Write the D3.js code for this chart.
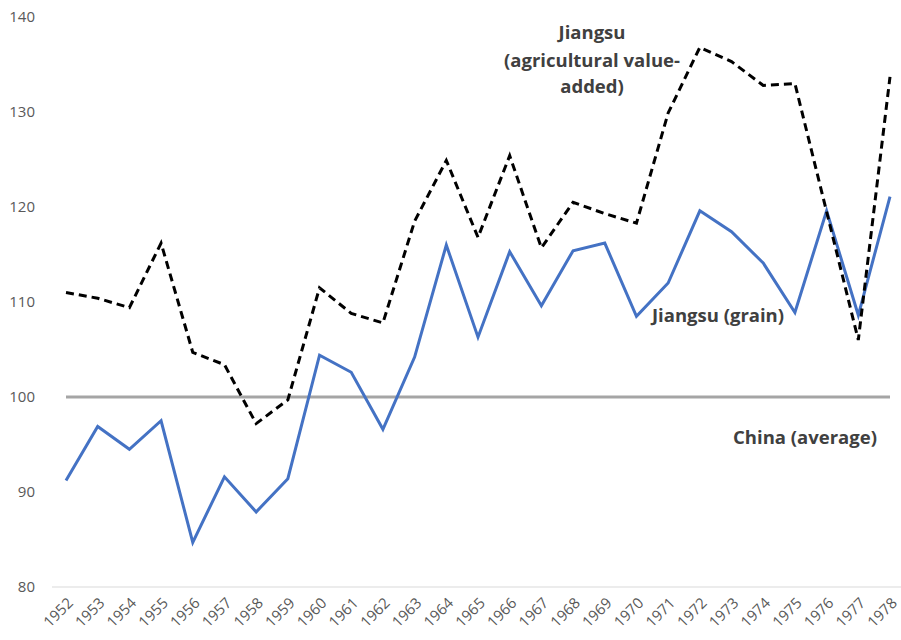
<!DOCTYPE html>
<html>
<head>
<meta charset="utf-8">
<script src="https://cdn.jsdelivr.net/npm/d3@7"></script>
<style>
body { margin: 0; background: #fff; }
svg { font-family: "Open Sans", Lato, sans-serif; }
</style>
</head>
<body>
<div id="chart"></div>
<script>
var years = d3.range(1952, 1979);
var grain = [91.2, 96.9, 94.5, 97.5, 84.7, 91.6, 87.9, 91.4, 104.4, 102.6, 96.6, 104.2, 116.0,
	106.3, 115.3, 109.6, 115.4, 116.2, 108.5, 112.0, 119.6, 117.4, 114.1, 108.9, 119.6, 108.6, 121.1];
var agri = [111.0, 110.4, 109.4, 116.2, 104.7, 103.4, 97.2, 99.7, 111.5, 108.8, 107.8, 118.5, 124.9,
	116.8, 125.4, 115.7, 120.5, 119.3, 118.3, 129.9, 136.8, 135.3, 132.8, 133.0, 119.5, 106.0, 133.7];
var china = years.map(function() { return 100; });
var yTicks = [80, 90, 100, 110, 120, 130, 140];

var width = 901, height = 640;
var svg = d3.select('#chart').append('svg')
	.attr('width', width)
	.attr('height', height);

var x = d3.scalePoint()
	.domain(years)
	.range([66, 890]);

var y = d3.scaleLinear()
	.domain([80, 140])
	.range([587, 17]);

// baseline
svg.append('line')
	.attr('x1', 52).attr('x2', 901)
	.attr('y1', y(80)).attr('y2', y(80))
	.attr('stroke', '#d9d9d9')
	.attr('stroke-width', 1.2);

// y labels
svg.selectAll('.ylab').data(yTicks).enter().append('text')
	.attr('class', 'ylab')
	.attr('x', 35)
	.attr('y', function(d) { return y(d); })
	.attr('dy', '0.35em')
	.attr('text-anchor', 'end')
	.attr('font-size', 15)
	.attr('fill', '#595959')
	.text(function(d) { return d; });

// x labels
svg.selectAll('.xlab').data(years).enter().append('text')
	.attr('class', 'xlab')
	.attr('transform', function(d) { return 'translate(' + (x(d) + 8) + ',604) rotate(-45)'; })
	.attr('text-anchor', 'end')
	.attr('font-size', 15)
	.attr('fill', '#595959')
	.text(function(d) { return d; });

var line = d3.line()
	.x(function(d, i) { return x(years[i]); })
	.y(function(d) { return y(d); });

svg.append('path')
	.datum(china)
	.attr('d', line)
	.attr('fill', 'none')
	.attr('stroke', '#a5a5a5')
	.attr('stroke-width', 3);

svg.append('path')
	.datum(grain)
	.attr('d', line)
	.attr('fill', 'none')
	.attr('stroke', '#4472c4')
	.attr('stroke-width', 3);

svg.append('path')
	.datum(agri)
	.attr('d', line)
	.attr('fill', 'none')
	.attr('stroke', '#000')
	.attr('stroke-width', 3)
	.attr('stroke-dasharray', '8,5');

// annotations
var notes = [
	{ t: 'Jiangsu', x: 592, y: 33 },
	{ t: '(agricultural value-', x: 592, y: 61 },
	{ t: 'added)', x: 592, y: 87 },
	{ t: 'Jiangsu (grain)', x: 718, y: 316 },
	{ t: 'China (average)', x: 805, y: 438 }
];
svg.selectAll('.note').data(notes).enter().append('text')
	.attr('class', 'note')
	.attr('x', function(d) { return d.x; })
	.attr('y', function(d) { return d.y; })
	.attr('dy', '0.35em')
	.attr('text-anchor', 'middle')
	.attr('font-size', 18.5)
	.attr('font-weight', 'bold')
	.attr('fill', '#404040')
	.text(function(d) { return d.t; });
</script>
</body>
</html>
